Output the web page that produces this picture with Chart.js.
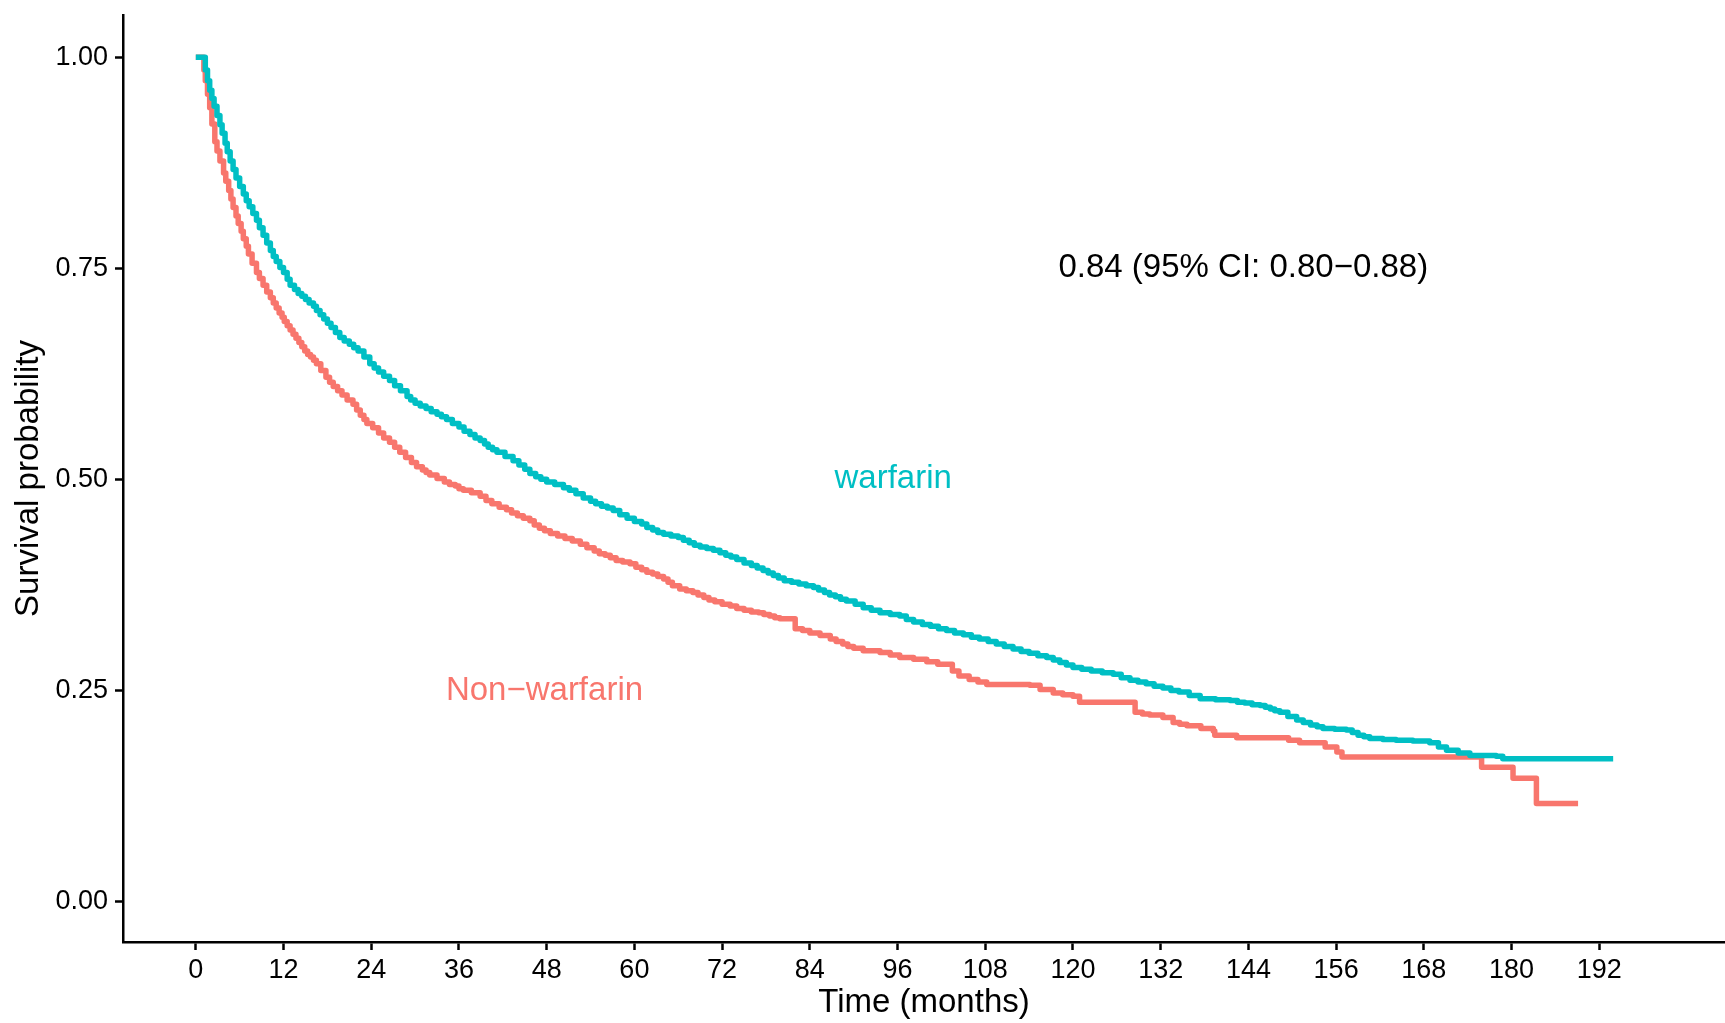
<!DOCTYPE html>
<html>
<head>
<meta charset="utf-8">
<script src="https://cdn.jsdelivr.net/npm/chart.js@4.4.1/dist/chart.umd.min.js"></script>
<style>
    html, body { margin: 0; padding: 0; background: #ffffff; }
    #wrap { width: 1725px; height: 1023px; position: relative; }
</style>
</head>
<body>
<div id="wrap"><canvas id="kmChart"></canvas></div>
<script>
// Kaplan-Meier survival, warfarin vs non-warfarin
// each entry: [time in months, survival probability]
const warfarinCurve = [
    [0, 1.0], [1.0, 1.0], [1.3, 0.985], [1.6, 0.972], [1.9, 0.961], [2.2, 0.951], [2.5, 0.942], [2.9, 0.931], [3.3, 0.92], [3.6, 0.91],
    [4.0, 0.898], [4.3, 0.888], [4.7, 0.877], [5.1, 0.867], [5.5, 0.857], [6.0, 0.847], [6.5, 0.838], [6.9, 0.83], [7.3, 0.823], [7.8, 0.815],
    [8.3, 0.807], [8.7, 0.798], [9.2, 0.789], [9.7, 0.78], [10.2, 0.771], [10.6, 0.764], [11.0, 0.758], [11.5, 0.751], [12.0, 0.745], [12.5, 0.737],
    [12.9, 0.73], [13.5, 0.725], [14.0, 0.72], [14.5, 0.717], [15.0, 0.713], [15.5, 0.709], [16.1, 0.705], [16.5, 0.7], [17.0, 0.695], [17.5, 0.69],
    [18.0, 0.685], [18.5, 0.68], [19.1, 0.674], [19.7, 0.668], [20.3, 0.664], [21.0, 0.66], [21.6, 0.656], [22.2, 0.652], [23.0, 0.645], [23.8, 0.637],
    [24.4, 0.632], [25.0, 0.627], [25.7, 0.622], [26.5, 0.617], [27.2, 0.611], [28.0, 0.605], [28.9, 0.598], [29.4, 0.594], [30.0, 0.59], [30.7, 0.587],
    [31.5, 0.584], [32.2, 0.58], [33.0, 0.577], [33.6, 0.574], [34.3, 0.571], [35.1, 0.566], [36.0, 0.562], [36.7, 0.557], [37.5, 0.553], [38.2, 0.549],
    [38.9, 0.546], [39.5, 0.542], [40.0, 0.538], [40.6, 0.535], [41.2, 0.532], [42.3, 0.527], [43.4, 0.522], [44.2, 0.517], [45.0, 0.512], [45.7, 0.507],
    [46.5, 0.503], [47.2, 0.5], [48.0, 0.497], [49.1, 0.494], [50.3, 0.49], [51.1, 0.487], [52.0, 0.483], [53.0, 0.478], [54.0, 0.474], [54.7, 0.471],
    [55.5, 0.468], [56.3, 0.466], [57.1, 0.463], [58.0, 0.458], [59.0, 0.454], [60.0, 0.45], [61.0, 0.447], [61.7, 0.443], [62.5, 0.44], [63.2, 0.437],
    [64.0, 0.435], [65.0, 0.433], [66.0, 0.431], [66.7, 0.428], [67.5, 0.425], [68.2, 0.422], [69.0, 0.42], [69.9, 0.418], [70.8, 0.416], [71.7, 0.413],
    [72.5, 0.41], [73.2, 0.408], [74.0, 0.405], [75.0, 0.401], [76.0, 0.398], [76.8, 0.395], [77.6, 0.392], [78.3, 0.389], [79.0, 0.386], [79.7, 0.383],
    [80.5, 0.38], [81.5, 0.378], [82.5, 0.376], [83.5, 0.374], [84.5, 0.372], [85.2, 0.369], [86.0, 0.366], [86.7, 0.363], [87.5, 0.361], [88.2, 0.358],
    [89.0, 0.356], [90.2, 0.352], [91.3, 0.348], [92.4, 0.345], [93.6, 0.342], [95.0, 0.34], [96.3, 0.338], [97.2, 0.334], [98.2, 0.331], [99.4, 0.328],
    [100.5, 0.326], [101.6, 0.323], [102.7, 0.321], [103.8, 0.318], [105.0, 0.316], [106.1, 0.313], [107.2, 0.311], [108.4, 0.308], [109.5, 0.305], [110.6, 0.302],
    [111.8, 0.299], [112.9, 0.296], [114.0, 0.294], [115.2, 0.291], [116.4, 0.289], [117.3, 0.286], [118.2, 0.283], [119.1, 0.28], [120.0, 0.277], [121.2, 0.275],
    [122.5, 0.273], [124.0, 0.271], [125.5, 0.269], [126.6, 0.265], [127.8, 0.262], [128.9, 0.26], [130.0, 0.258], [131.1, 0.255], [132.3, 0.253], [133.4, 0.25],
    [134.5, 0.248], [135.9, 0.244], [137.4, 0.24], [139.5, 0.239], [141.5, 0.238], [142.5, 0.236], [143.5, 0.235], [144.5, 0.233], [145.6, 0.232], [146.3, 0.23],
    [147.0, 0.228], [147.6, 0.226], [148.3, 0.224], [149.4, 0.219], [150.6, 0.215], [151.5, 0.212], [152.5, 0.209], [153.4, 0.207], [154.2, 0.205], [155.8, 0.204],
    [157.4, 0.203], [158.2, 0.2], [159.0, 0.197], [159.8, 0.195], [160.6, 0.193], [162.4, 0.192], [164.2, 0.191], [166.5, 0.19], [168.8, 0.188], [170.0, 0.183],
    [171.1, 0.179], [172.7, 0.176], [174.3, 0.173], [177.9, 0.172], [178.8, 0.169], [193.9, 0.169]
];

const nonWarfarinCurve = [
    [0, 1.0], [0.8, 1.0], [1.1, 0.985], [1.3, 0.972], [1.6, 0.956], [1.9, 0.94], [2.2, 0.921], [2.6, 0.9], [2.9, 0.889], [3.3, 0.877],
    [3.8, 0.863], [4.1, 0.853], [4.5, 0.842], [4.8, 0.832], [5.1, 0.822], [5.5, 0.812], [5.8, 0.803], [6.2, 0.794], [6.5, 0.785], [6.9, 0.776],
    [7.2, 0.767], [7.7, 0.756], [8.3, 0.745], [8.7, 0.738], [9.2, 0.73], [9.7, 0.722], [10.2, 0.715], [10.6, 0.709], [11.0, 0.703], [11.4, 0.697],
    [11.8, 0.692], [12.1, 0.687], [12.5, 0.682], [12.9, 0.677], [13.3, 0.672], [13.7, 0.667], [14.1, 0.662], [14.5, 0.657], [14.9, 0.652], [15.3, 0.648],
    [15.7, 0.645], [16.1, 0.641], [16.5, 0.637], [17.1, 0.629], [17.8, 0.621], [18.3, 0.615], [18.8, 0.61], [19.4, 0.605], [20.0, 0.6], [20.7, 0.594],
    [21.5, 0.589], [22.0, 0.582], [22.5, 0.576], [23.0, 0.571], [23.4, 0.566], [24.2, 0.561], [25.0, 0.555], [25.7, 0.549], [26.5, 0.544], [27.2, 0.538],
    [27.9, 0.532], [28.7, 0.526], [29.5, 0.52], [30.2, 0.515], [31.0, 0.511], [31.5, 0.508], [32.0, 0.505], [33.0, 0.501], [34.0, 0.497], [34.7, 0.494],
    [35.5, 0.492], [36.0, 0.489], [36.6, 0.487], [37.7, 0.484], [38.9, 0.48], [39.7, 0.475], [40.5, 0.471], [41.5, 0.467], [42.5, 0.464], [43.2, 0.46],
    [44.0, 0.457], [44.8, 0.454], [45.7, 0.451], [46.3, 0.446], [47.0, 0.442], [47.7, 0.439], [48.5, 0.436], [49.5, 0.433], [50.5, 0.43], [51.5, 0.427],
    [52.6, 0.423], [53.5, 0.419], [54.5, 0.415], [55.2, 0.412], [56.0, 0.41], [56.7, 0.407], [57.5, 0.404], [58.4, 0.402], [59.4, 0.4], [60.2, 0.396],
    [61.0, 0.393], [61.7, 0.39], [62.5, 0.388], [63.2, 0.385], [64.0, 0.382], [64.6, 0.378], [65.2, 0.374], [66.2, 0.37], [67.1, 0.368], [68.0, 0.366],
    [68.7, 0.363], [69.5, 0.36], [70.2, 0.357], [71.0, 0.355], [72.0, 0.352], [73.1, 0.35], [74.0, 0.347], [75.0, 0.345], [76.0, 0.343], [77.0, 0.342],
    [77.7, 0.34], [78.5, 0.338], [79.2, 0.336], [79.9, 0.335], [82.0, 0.323], [83.0, 0.321], [84.0, 0.318], [85.4, 0.315], [86.8, 0.311], [87.6, 0.308],
    [88.5, 0.305], [89.2, 0.302], [90.0, 0.3], [91.3, 0.297], [93.6, 0.295], [95.0, 0.292], [96.3, 0.289], [98.2, 0.287], [100.0, 0.284], [101.5, 0.281],
    [103.5, 0.273], [104.4, 0.267], [105.8, 0.263], [107.0, 0.26], [108.2, 0.257], [114.1, 0.256], [115.5, 0.251], [117.3, 0.247], [118.6, 0.245], [120.0, 0.243],
    [120.9, 0.236], [128.5, 0.224], [129.5, 0.222], [130.5, 0.221], [132.3, 0.218], [133.7, 0.212], [134.6, 0.21], [135.6, 0.208], [137.5, 0.205], [139.2, 0.202],
    [139.4, 0.197], [142.4, 0.194], [149.5, 0.191], [151.0, 0.188], [154.5, 0.183], [156.1, 0.177], [156.8, 0.171], [175.9, 0.159], [180.2, 0.146], [183.4, 0.116],
    [189.1, 0.116]
];

const xTicks = [0, 12, 24, 36, 48, 60, 72, 84, 96, 108, 120, 132, 144, 156, 168, 180, 192];
const yTicks = [0, 0.25, 0.5, 0.75, 1];

// text labels on the plot (data coordinates)
const labelTexts = ['0.84 (95% CI: 0.80\u22120.88)', 'warfarin', 'Non\u2212warfarin'];
const labelX = [143.3, 95.4, 47.7];
const labelY = [0.75, 0.5, 0.25];
const labelColors = ['#000000', '#00BFC4', '#F8766D'];

const FONT = "'Liberation Sans', Arial, Helvetica, sans-serif";
Chart.defaults.font.family = FONT;
Chart.defaults.color = '#000000';

function toPoints(curve) {
    return curve.map(p => ({ x: p[0], y: p[1] }));
}

// draws the group labels and the HR text
const plotLabels = {
    id: 'plotLabels',
    afterDatasetsDraw(chart) {
        const { ctx, scales } = chart;
        ctx.save();
        ctx.font = '33px ' + FONT;
        ctx.textAlign = 'center';
        ctx.textBaseline = 'middle';
        labelTexts.forEach((txt, i) => {
            ctx.fillStyle = labelColors[i];
            ctx.fillText(txt, scales.x.getPixelForValue(labelX[i]), scales.y.getPixelForValue(labelY[i]));
        });
        ctx.restore();
    }
};

const lineStyle = {
    stepped: true,
    pointRadius: 0,
    borderWidth: 5.5,
    borderCapStyle: 'butt',
    borderJoinStyle: 'round',
    fill: false
};

new Chart(document.getElementById('kmChart').getContext('2d'), {
    type: 'line',
    data: {
        datasets: [
            { label: 'warfarin', data: toPoints(warfarinCurve), borderColor: '#00BFC4', ...lineStyle },
            { label: 'Non-warfarin', data: toPoints(nonWarfarinCurve), borderColor: '#F8766D', ...lineStyle }
        ]
    },
    options: {
        responsive: true,
        maintainAspectRatio: false,
        animation: false,
        layout: { padding: { top: 15, right: 0, bottom: 0, left: 0 } },
        plugins: {
            legend: { display: false },
            tooltip: { enabled: false }
        },
        scales: {
            x: {
                type: 'linear',
                min: -9.96,
                max: 209.2,
                afterBuildTicks: scale => { scale.ticks = xTicks.map(v => ({ value: v })); },
                afterFit: scale => { scale.height = 81; scale.paddingLeft = 0; scale.paddingRight = 0; },
                ticks: { font: { size: 27 }, color: '#000', padding: 4, maxRotation: 0, autoSkip: false },
                grid: { drawOnChartArea: false, drawTicks: true, tickLength: 8, tickWidth: 2.5, tickColor: '#000' },
                border: { display: true, color: '#000', width: 2.5 },
                title: { display: true, text: 'Time (months)', font: { size: 33 }, color: '#000', padding: { top: 0, bottom: 0 } }
            },
            y: {
                type: 'linear',
                min: -0.048,
                max: 1.05,
                afterBuildTicks: scale => { scale.ticks = yTicks.map(v => ({ value: v })); },
                afterFit: scale => { scale.width = 123; scale.paddingTop = 0; scale.paddingBottom = 0; },
                ticks: { font: { size: 27 }, color: '#000', padding: 7, callback: v => v.toFixed(2) },
                grid: { drawOnChartArea: false, drawTicks: true, tickLength: 8, tickWidth: 2.5, tickColor: '#000' },
                border: { display: true, color: '#000', width: 2.5 },
                title: { display: true, text: 'Survival probability', font: { size: 33 }, color: '#000', padding: { top: 9, bottom: 0 } }
            }
        }
    },
    plugins: [plotLabels]
});
</script>
</body>
</html>
